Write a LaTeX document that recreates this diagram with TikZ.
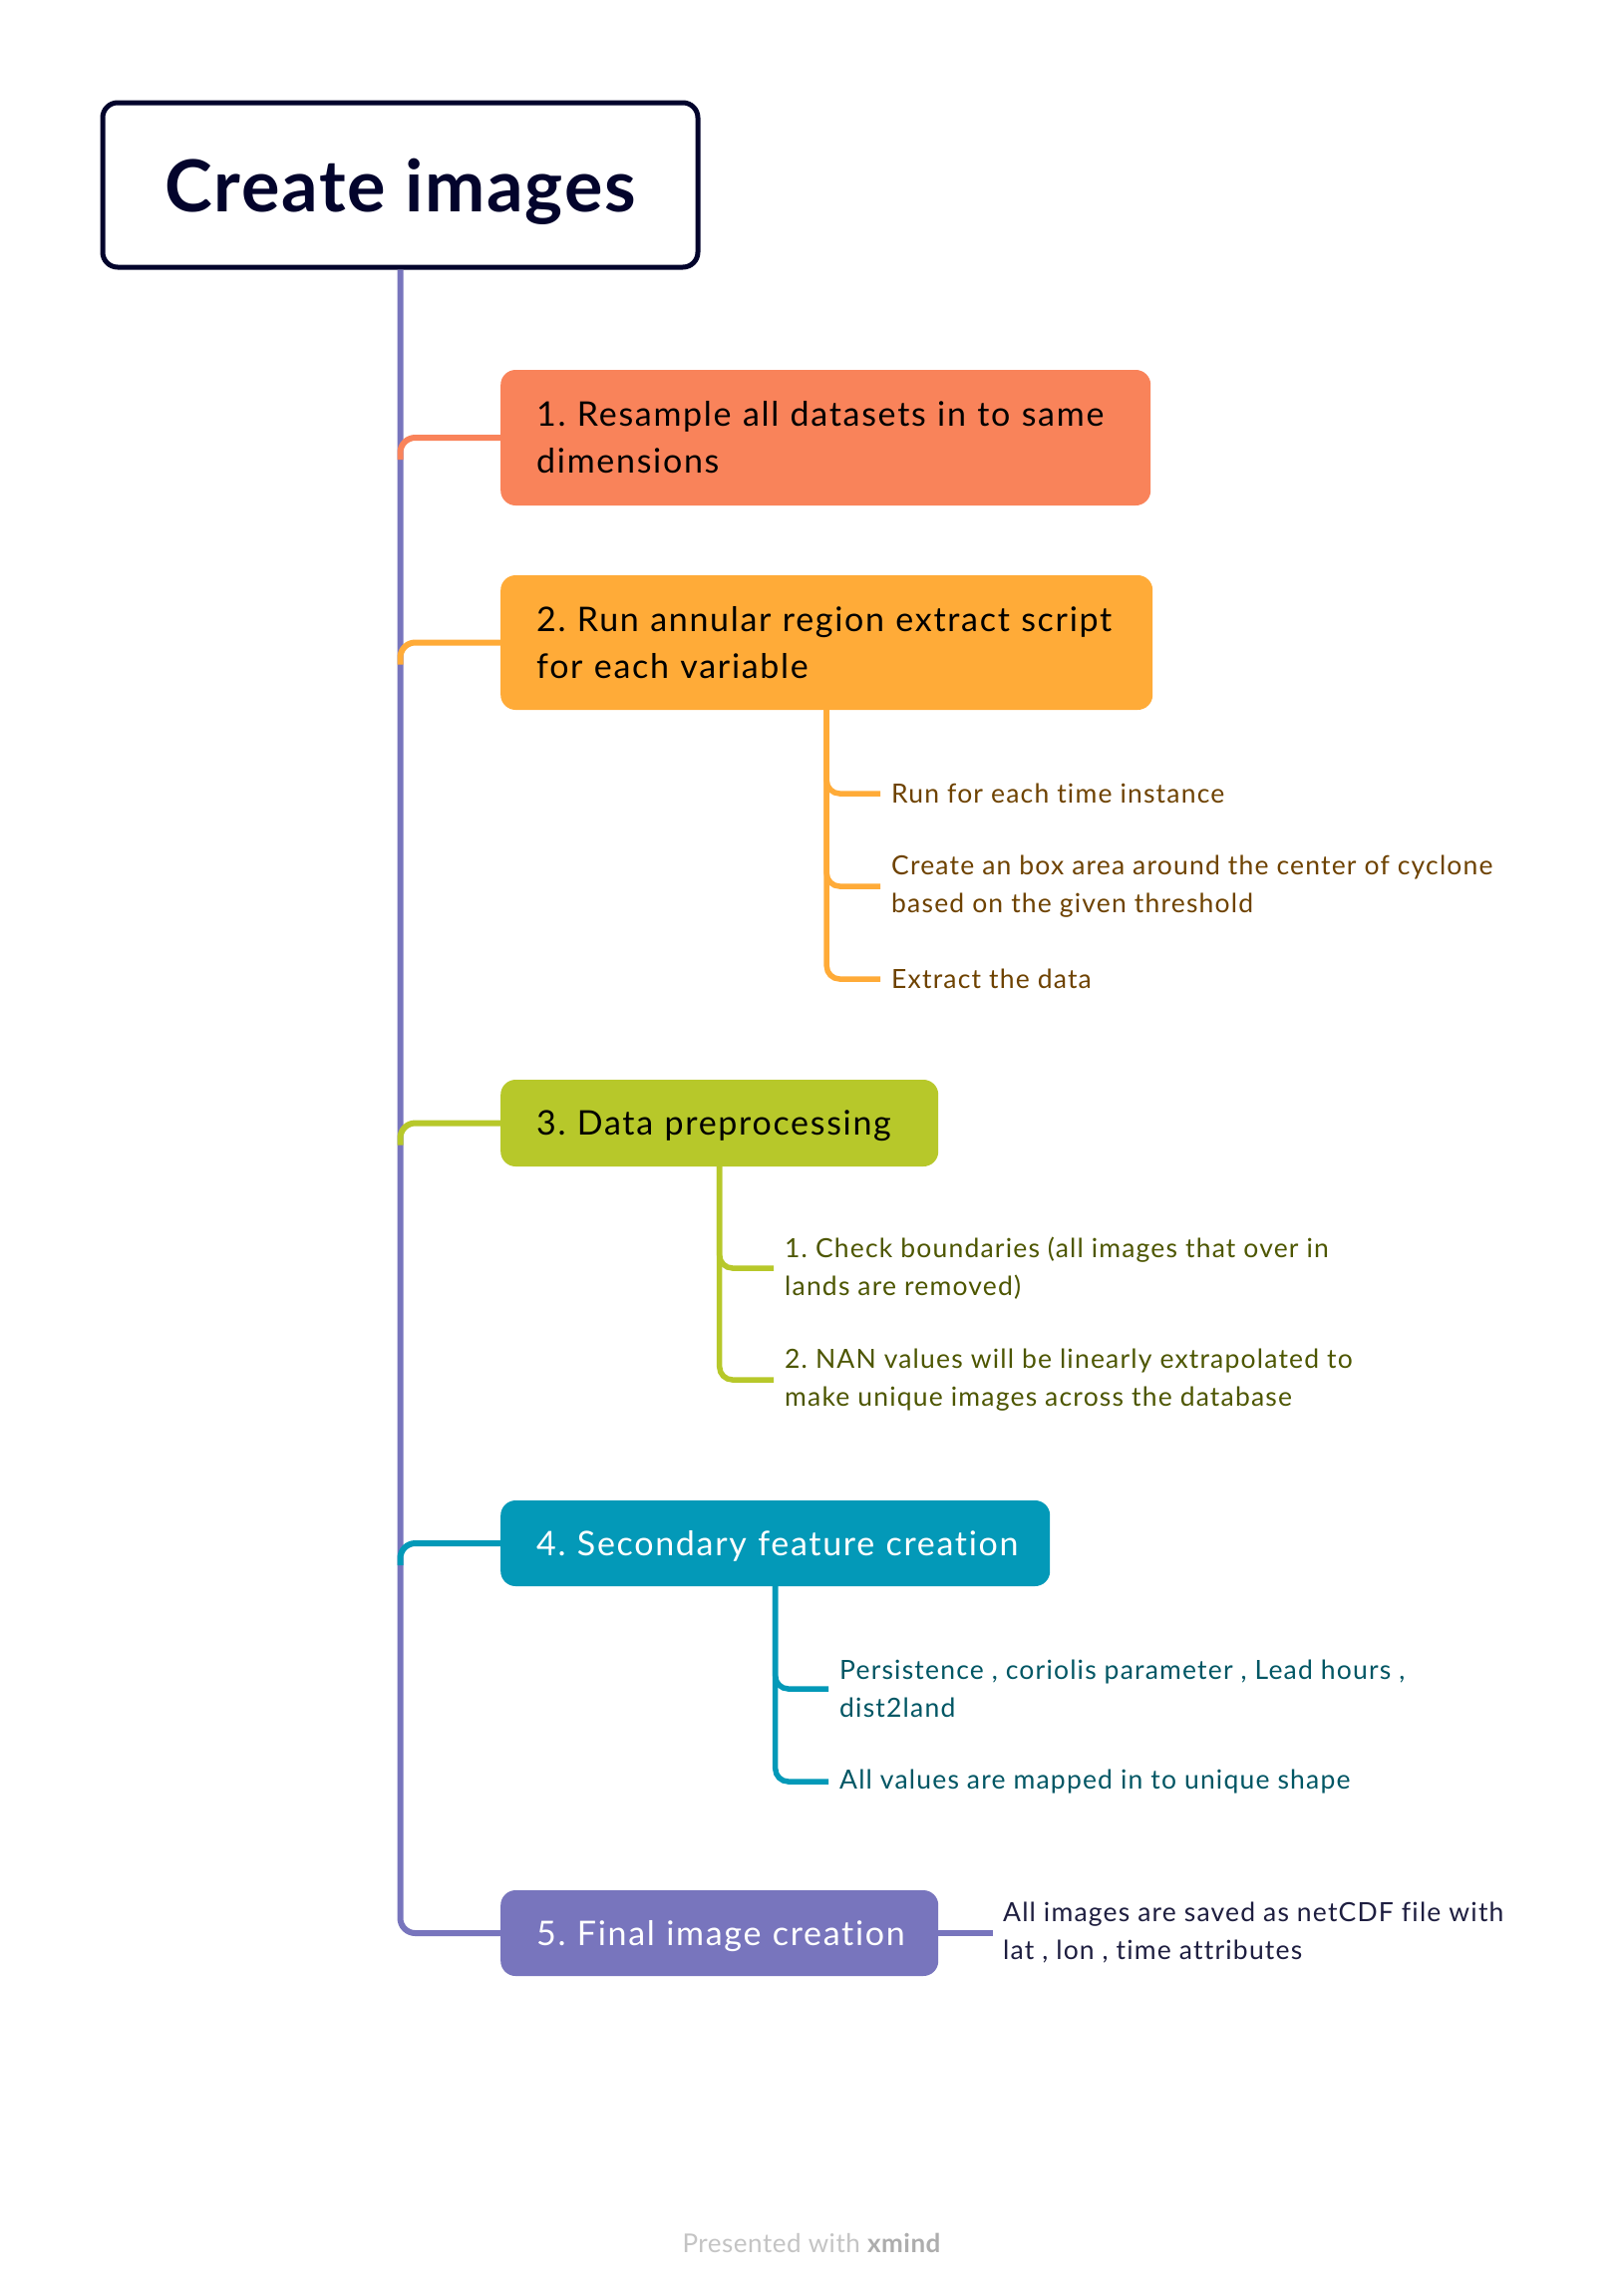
\documentclass[tikz,border=0pt]{standalone}
\usepackage{fontspec}
\setmainfont{Lato}
\newfontfamily\topicfont[LetterSpace=5,Ligatures=NoCommon]{Lato}
\newfontfamily\subfont[LetterSpace=4.5,Ligatures=NoCommon]{Lato}
\newfontfamily\rootfont[LetterSpace=2.5,Ligatures=NoCommon]{Lato}
\newfontfamily\footfont[LetterSpace=2,Ligatures=NoCommon]{Lato}
\definecolor{rootc}{HTML}{03042C}
\definecolor{trunkc}{HTML}{7875BD}
\definecolor{c1}{HTML}{F9835A}
\definecolor{c2}{HTML}{FFAB38}
\definecolor{c3}{HTML}{B7C82A}
\definecolor{c4}{HTML}{0399B8}
\definecolor{c5}{HTML}{7875BD}
\definecolor{s2}{HTML}{6E4200}
\definecolor{s3}{HTML}{4D5600}
\definecolor{s4}{HTML}{005664}
\definecolor{s5}{HTML}{1E1E40}
\definecolor{foot}{HTML}{C4C4C4}
\definecolor{footb}{HTML}{ADADAD}
\tikzset{
  topicbox/.style={rounded corners=15pt, anchor=west, inner xsep=36pt, inner ysep=0pt,
    align=left, font=\topicfont\fontsize{34}{47}\selectfont},
  oneline/.style={text depth=0pt},
  subtext/.style={anchor=west, inner xsep=11pt, inner ysep=0pt, align=left,
    font=\subfont\fontsize{26.5}{38}\selectfont},
  link/.style={line width=6pt, rounded corners=15pt},
  sublink/.style={line width=5.5pt, rounded corners=13pt},
}
\frenchspacing
\begin{document}
\begin{tikzpicture}[x=1pt,y=-1pt]
\useasboundingbox[fill=white] (0,0) rectangle (1628,2302);
% root
\node[draw=rootc, line width=5pt, rounded corners=15pt, minimum width=597pt, minimum height=165pt,
  inner sep=0pt, text depth=0pt, text=rootc, font=\rootfont\fontsize{72}{80}\selectfont\bfseries] (root) at (401.5,185.5) {Create images};
% main topics
\node[topicbox, fill=c1, text=black, text width=580pt, minimum height=136pt] (n1) at (502,439) {1. Resample all datasets in to same\\dimensions};
\node[topicbox, fill=c2, text=black, text width=582pt, minimum height=135pt] (n2) at (502,644.5) {2. Run annular region extract script\\for each variable};
\node[topicbox, oneline, fill=c3, text=black, text width=367pt, minimum height=87pt] (n3) at (502,1126.5) {3. Data preprocessing};
\node[topicbox, oneline, fill=c4, text=white, text width=479pt, minimum height=86pt] (n4) at (502,1548) {4. Secondary feature creation};
\node[topicbox, oneline, fill=c5, text=white, text width=367pt, minimum height=86pt] (n5) at (502,1939) {5. Final image creation};
% trunk
\draw[link, trunkc] (root.south) |- (n5.west);
\coordinate (b1) at ([yshift=-22pt]root.south |- n1.west);
\coordinate (b2) at ([yshift=-22pt]root.south |- n2.west);
\coordinate (b3) at ([yshift=-22pt]root.south |- n3.west);
\coordinate (b4) at ([yshift=-22pt]root.south |- n4.west);
\draw[link, c1] (b1) |- (n1.west);
\draw[link, c2] (b2) |- (n2.west);
\draw[link, c3] (b3) |- (n3.west);
\draw[link, c4] (b4) |- (n4.west);
% subtopics of 2
\node[subtext, text=s2] (t21) at (883,796) {Run for each time instance};
\node[subtext, text=s2] (t22) at (883,889) {Create an box area around the center of cyclone\\based on the given threshold};
\node[subtext, text=s2] (t23) at (883,982) {Extract the data};
\draw[sublink, c2] (n2.south) |- (t21.west);
\draw[sublink, c2] (n2.south) |- (t22.west);
\draw[sublink, c2] (n2.south) |- (t23.west);
% subtopics of 3
\node[subtext, text=s3] (t31) at (776,1272) {1. Check boundaries (all images that over in\\lands are removed)};
\node[subtext, text=s3] (t32) at (776,1384) {2. NAN values will be linearly extrapolated to\\make unique images across the database};
\draw[sublink, c3] (n3.south) |- (t31.west);
\draw[sublink, c3] (n3.south) |- (t32.west);
% subtopics of 4
\node[subtext, text=s4] (t41) at (831,1694) {Persistence , coriolis parameter , Lead hours ,\\dist2land};
\node[subtext, text=s4] (t42) at (831,1787) {All values are mapped in to unique shape};
\draw[sublink, c4] (n4.south) |- (t41.west);
\draw[sublink, c4] (n4.south) |- (t42.west);
% attached to 5
\node[subtext, text=s5, inner xsep=10pt] (t51) at (996,1939) {All images are saved as netCDF file with\\lat , lon , time attributes};
\draw[sublink, c5] (n5.east) -- (t51.west);
% footer
\node[font=\footfont\fontsize{26}{30}\selectfont, text=foot] (foot) at (814,2250) {Presented with \textcolor{footb}{\bfseries xmind}};
\end{tikzpicture}
\end{document}
